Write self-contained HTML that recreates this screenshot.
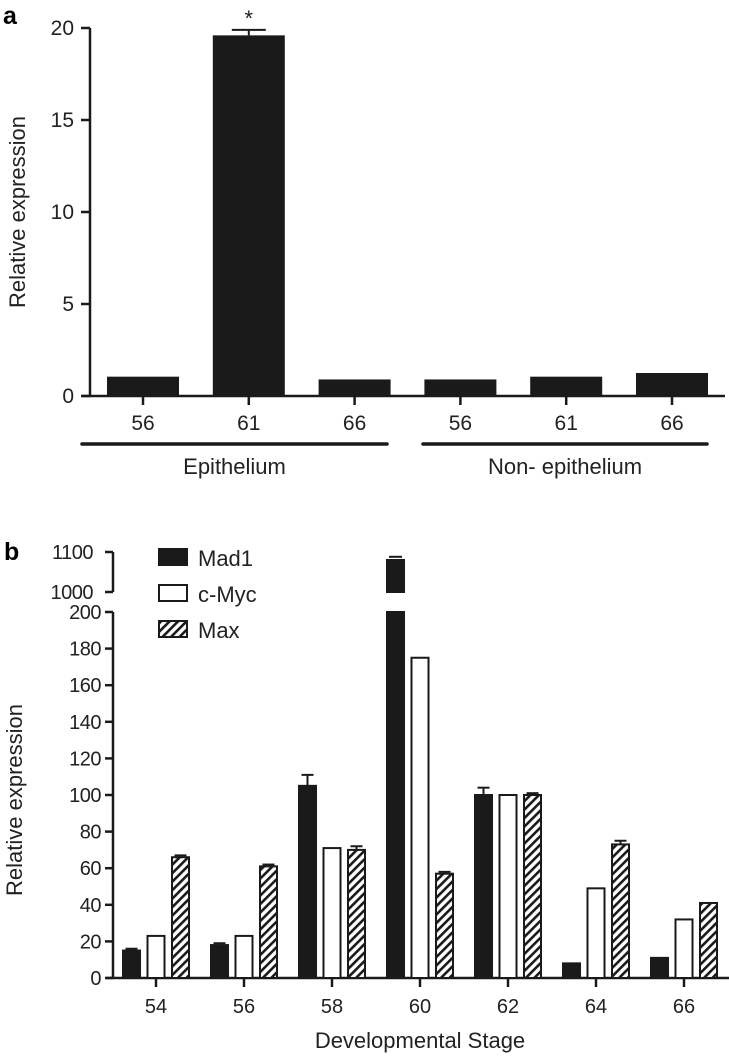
<!DOCTYPE html>
<html><head><meta charset="utf-8"><style>
html,body{margin:0;padding:0;background:#fff;}
svg{display:block;font-family:"Liberation Sans",Arial,sans-serif;}
</style></head><body>
<svg id="fig" width="729" height="1059" viewBox="0 0 729 1059">
<defs>
<pattern id="hatch" patternUnits="userSpaceOnUse" width="6" height="6" patternTransform="rotate(45)">
<rect width="6" height="6" fill="#fff"/><rect width="2.6" height="6" fill="#1a1a1a"/>
</pattern>
</defs>
<g id="pa"></g>
<g id="pb"></g>
</svg>
<script>
// Panel a data
const aCats = ["56","61","66","56","61","66"];
const aVals = [1.05, 19.6, 0.9, 0.9, 1.05, 1.25];
const aErr = [0, 0.3, 0, 0, 0, 0];
const aTicks = [0,5,10,15,20];
const aGroups = ["Epithelium","Non- epithelium"];
// Panel b data
const bCats = ["54","56","58","60","62","64","66"];
const bSeries = ["Mad1","c-Myc","Max"];
const bMad1 = [15, 18, 105, 1080, 100, 8, 11];
const bMyc = [23, 23, 71, 175, 100, 49, 32];
const bMax = [66, 61, 70, 57, 100, 73, 41];
const bMad1Err = [1, 1, 6, 8, 4, 0, 0];
const bMycErr = [0, 0, 0, 0, 0, 0, 0];
const bMaxErr = [1, 1, 2, 1, 1, 2, 0];
const bTicksLow = [0,20,40,60,80,100,120,140,160,180,200];
const bTicksHigh = [1000,1100];

const NS="http://www.w3.org/2000/svg";
function mk(parent,tag,attrs,text){const e=document.createElementNS(NS,tag);for(const k in attrs)e.setAttribute(k,attrs[k]);if(text!==undefined)e.textContent=text;parent.appendChild(e);return e;}

// ---------- Panel A ----------
const pa=document.getElementById('pa');
const ay=v=>396-v*(396-28)/20;
const ax=i=>143+i*105.8;
let t=mk(pa,'text',{x:3,y:24,'font-size':25,'font-weight':'bold'},'a');


let l=mk(pa,'line',{x1:90,y1:28,x2:90,y2:396,stroke:'#1a1a1a','stroke-width':2.5});


l=mk(pa,'line',{x1:82,y1:396,x2:725,y2:396,stroke:'#1a1a1a','stroke-width':2.5});


aTicks.forEach(v=>{
  mk(pa,'line',{x1:81,y1:ay(v),x2:90,y2:ay(v),stroke:'#1a1a1a','stroke-width':2.5});
  const tx=mk(pa,'text',{x:74,y:ay(v)+7,'font-size':21,'text-anchor':'end',fill:'#222'},v);
  
  
});
t=mk(pa,'text',{x:0,y:0,'font-size':22,'text-anchor':'middle',fill:'#222',transform:'translate(25,212) rotate(-90)'},'Relative expression');


aVals.forEach((v,i)=>{
  const x=ax(i);
  const r=mk(pa,'rect',{x:x-36,y:ay(v),width:72,height:396-ay(v),fill:'#1a1a1a'});
  
  
  if(aErr[i]>0){
    mk(pa,'line',{x1:x,y1:ay(v),x2:x,y2:ay(v+aErr[i]),stroke:'#1a1a1a','stroke-width':2});
    mk(pa,'line',{x1:x-17,y1:ay(v+aErr[i]),x2:x+17,y2:ay(v+aErr[i]),stroke:'#1a1a1a','stroke-width':2});
    const s=mk(pa,'text',{x:x,y:ay(v+aErr[i])-4,'font-size':22,'text-anchor':'middle',fill:'#222'},'*');
    
    
  }
  mk(pa,'line',{x1:x,y1:396,x2:x,y2:405,stroke:'#1a1a1a','stroke-width':2.5});
  const tl=mk(pa,'text',{x:x,y:430,'font-size':21,'text-anchor':'middle',fill:'#222'},aCats[i]);
  
  
});
[[82,387],[423,707]].forEach((g,i)=>{
  const gl=mk(pa,'line',{x1:g[0],y1:444,x2:g[1],y2:444,stroke:'#1a1a1a','stroke-width':3.5,'stroke-linecap':'round'});
  
  
  const gt=mk(pa,'text',{x:(g[0]+g[1])/2,y:474,'font-size':22,'text-anchor':'middle',fill:'#222'},aGroups[i]);
  
  
});

// ---------- Panel B ----------
const pb=document.getElementById('pb');
const yLow=v=>978-v*(978-612)/200;
const yHigh=v=>592-(v-1000)*(592-552)/100;
const bx=i=>156+i*88;
t=mk(pb,'text',{x:4,y:560,'font-size':25,'font-weight':'bold'},'b');


l=mk(pb,'line',{x1:113,y1:612,x2:113,y2:978,stroke:'#1a1a1a','stroke-width':2.5});


l=mk(pb,'line',{x1:113,y1:552,x2:113,y2:592,stroke:'#1a1a1a','stroke-width':2.5});


l=mk(pb,'line',{x1:106,y1:978,x2:729,y2:978,stroke:'#1a1a1a','stroke-width':2.5});


bTicksLow.forEach(v=>{
  mk(pb,'line',{x1:105,y1:yLow(v),x2:113,y2:yLow(v),stroke:'#1a1a1a','stroke-width':2.5});
  const tx=mk(pb,'text',{x:101,y:yLow(v)+7,'font-size':20,'text-anchor':'end',fill:'#222',style:'letter-spacing:-0.5px'},v);
  
  
});
bTicksHigh.forEach(v=>{
  mk(pb,'line',{x1:105,y1:yHigh(v),x2:113,y2:yHigh(v),stroke:'#1a1a1a','stroke-width':2.5});
  const tx=mk(pb,'text',{x:93,y:yHigh(v)+7,'font-size':20,'text-anchor':'end',fill:'#222',style:'letter-spacing:-0.5px'},v);
  
  
});
t=mk(pb,'text',{x:0,y:0,'font-size':22,'text-anchor':'middle',fill:'#222',transform:'translate(22,800) rotate(-90)'},'Relative expression');


t=mk(pb,'text',{x:420,y:1048,'font-size':22,'text-anchor':'middle',fill:'#222'},'Developmental Stage');


const fills=['#1a1a1a','#fff','url(#hatch)'];
const series=[bMad1,bMyc,bMax];
const errs=[bMad1Err,bMycErr,bMaxErr];
bCats.forEach((c,i)=>{
  const cx=bx(i);
  series.forEach((s,k)=>{
    const v=s[i];const x=cx+(k-1)*24.5;const w=17;
    if(v>200){
      const r1=mk(pb,'rect',{x:x-w/2,y:yLow(200),width:w,height:978-yLow(200),fill:fills[k],stroke:'#1a1a1a','stroke-width':2});
      
      
      const r2=mk(pb,'rect',{x:x-w/2,y:yHigh(v),width:w,height:yHigh(1000)-yHigh(v),fill:fills[k],stroke:'#1a1a1a','stroke-width':2});
      
      
      if(errs[k][i]>0){
        const ey=yHigh(v+errs[k][i]);
        mk(pb,'line',{x1:x-w/2+2,y1:ey,x2:x+w/2-2,y2:ey,stroke:'#1a1a1a','stroke-width':2});
      }
    } else {
      const r=mk(pb,'rect',{x:x-w/2,y:yLow(v),width:w,height:978-yLow(v),fill:fills[k],stroke:'#1a1a1a','stroke-width':2});
      
      
      if(errs[k][i]>0){
        const ey=yLow(v+errs[k][i]);
        mk(pb,'line',{x1:x,y1:yLow(v),x2:x,y2:ey,stroke:'#1a1a1a','stroke-width':2});
        mk(pb,'line',{x1:x-6,y1:ey,x2:x+6,y2:ey,stroke:'#1a1a1a','stroke-width':2});
      }
    }
  });
  mk(pb,'line',{x1:cx,y1:978,x2:cx,y2:987,stroke:'#1a1a1a','stroke-width':2.5});
  const tl=mk(pb,'text',{x:cx,y:1013,'font-size':20,'text-anchor':'middle',fill:'#222'},c);
  
  
});
// legend
bSeries.forEach((s,k)=>{
  const y=549+k*36;
  const r=mk(pb,'rect',{x:159,y:y,width:28,height:16,fill:fills[k],stroke:'#1a1a1a','stroke-width':2});
  
  
  const lt=mk(pb,'text',{x:198,y:y+17,'font-size':22,fill:'#222'},s);
  
  
});
</script>
</body></html>
